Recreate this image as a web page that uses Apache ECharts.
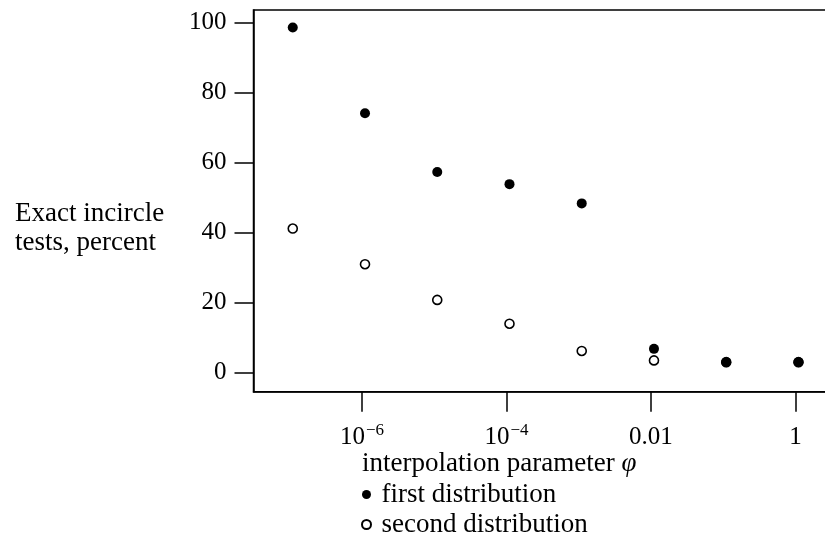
<!DOCTYPE html>
<html>
<head>
<meta charset="utf-8">
<script src="https://cdn.jsdelivr.net/npm/echarts@6/dist/echarts.min.js"></script>
<style>
  html, body { margin: 0; padding: 0; background: #fff; }
  #main { width: 825px; height: 541px; }
</style>
</head>
<body>
<div id="main"></div>
<script>
// interpolation parameter phi (one point per decade)
const phi = [1.1e-7, 1.1e-6, 1.1e-5, 1.1e-4, 1.1e-3, 1.1e-2, 1.1e-1, 1.1]
// exact incircle tests, percent
const firstDist = [98.6, 74.1, 57.3, 53.8, 48.3, 6.7, 2.9, 2.9]
const secondDist = [41.1, 30.9, 20.7, 13.9, 6.1, 3.4, 2.9, 2.9]

const xTicks = [1e-6, 1e-4, 0.01, 1]
const xTickLabels = ['10^-6', '10^-4', '0.01', '1']
const yTicks = [0, 20, 40, 60, 80, 100]

const serif = 'Liberation Serif'

function fmtX (v) {
  let i = xTicks.findIndex(t => Math.abs(Math.log10(t) - Math.log10(v)) < 1e-6)
  if (i < 0) return ''
  let s = xTickLabels[i]
  if (s.indexOf('^') >= 0) {
    let parts = s.split('^')
    return '{b|' + parts[0] + '}{s|' + parts[1].replace('-', '\u2212') + '}'
  }
  return '{b|' + s + '}'
}

let chart = echarts.init(document.getElementById('main'))
chart.setOption({
  backgroundColor: '#fff',
  animation: false,
  title: [
    {
      text: 'Exact incircle\ntests, percent',
      left: 15,
      top: 199,
      padding: 0,
      textStyle: { fontFamily: serif, fontSize: 27, fontWeight: 'normal', color: '#000', lineHeight: 29 }
    },
    {
      text: 'interpolation parameter {i|\u03c6}',
      left: 362,
      top: 451,
      padding: 0,
      textStyle: {
        fontFamily: serif, fontSize: 27, fontWeight: 'normal', color: '#000', lineHeight: 26,
        rich: { i: { fontFamily: serif, fontSize: 27, fontStyle: 'italic', color: '#000' } }
      }
    }
  ],
  legend: {
    orient: 'vertical',
    left: 361,
    top: 481,
    height: 90,
    padding: 0,
    itemWidth: 20,
    itemHeight: 9,
    itemGap: 3,
    data: ['first distribution', 'second distribution'],
    textStyle: { fontFamily: serif, fontSize: 27, color: '#000', lineHeight: 26 }
  },
  grid: {
    left: 253.5,
    top: 10,
    width: 581.5,
    height: 381.7,
    outerBoundsMode: 'none',
    show: true,
    borderColor: '#000',
    borderWidth: 1.5,
    backgroundColor: 'transparent'
  },
  xAxis: {
    type: 'log',
    logBase: 10,
    min: Math.pow(10, -7.502),
    max: Math.pow(10, 0.547),
    axisLine: { show: true, onZero: false, lineStyle: { color: '#000', width: 1.5 } },
    axisTick: { show: true, inside: false, length: 20, lineStyle: { color: '#000', width: 1.5 }, customValues: xTicks },
    axisLabel: {
      margin: 30,
      customValues: xTicks,
      formatter: fmtX,
      rich: {
        b: { fontFamily: serif, fontSize: 25, color: '#000', lineHeight: 28, verticalAlign: 'bottom' },
        s: { fontFamily: serif, fontSize: 17, color: '#000', lineHeight: 28, verticalAlign: 'top', padding: [0, 0, 8, 1] }
      }
    },
    minorTick: { show: false },
    splitLine: { show: false }
  },
  yAxis: {
    type: 'value',
    min: -5.55,
    max: 103.6,
    axisLine: { show: true, onZero: false, lineStyle: { color: '#000', width: 1.5 } },
    axisTick: { show: true, inside: false, length: 19, lineStyle: { color: '#000', width: 1.5 }, customValues: yTicks },
    axisLabel: { margin: 27, customValues: yTicks, fontFamily: serif, fontSize: 25, color: '#000' },
    splitLine: { show: false }
  },
  series: [
    {
      name: 'second distribution',
      type: 'scatter',
      symbol: 'circle',
      symbolSize: 9,
      itemStyle: { color: '#fff', borderColor: '#000', borderWidth: 1.6, opacity: 1 },
      data: phi.map((x, i) => [x, secondDist[i]]),
      z: 2
    },
    {
      name: 'first distribution',
      type: 'scatter',
      symbol: 'circle',
      symbolSize: 10,
      itemStyle: { color: '#000', opacity: 1 },
      data: phi.map((x, i) => [x, firstDist[i]]),
      z: 3
    }
  ]
})
</script>
</body>
</html>
